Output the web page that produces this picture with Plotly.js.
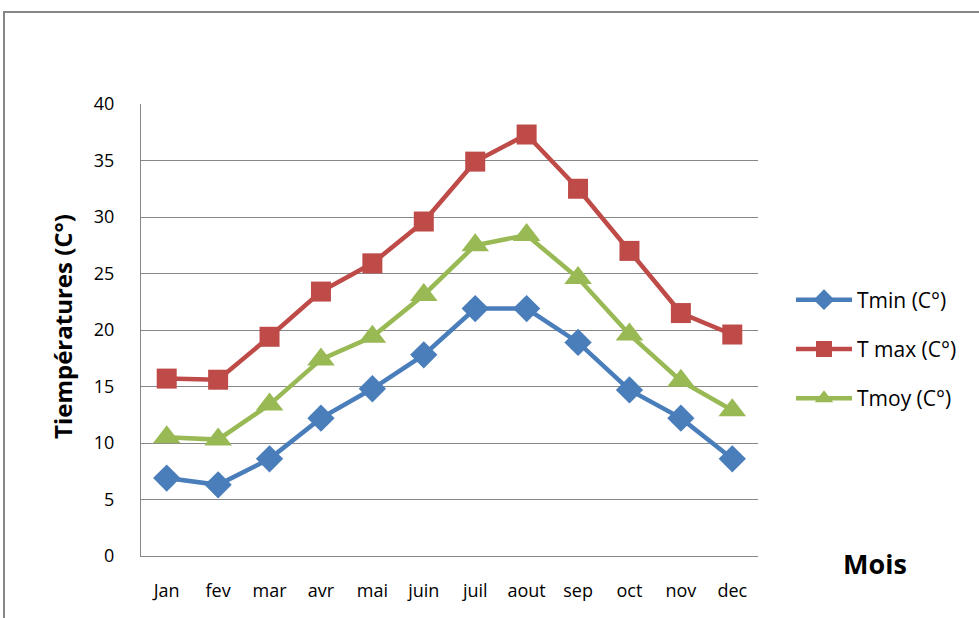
<!DOCTYPE html>
<html><head><meta charset="utf-8">
<script src="https://cdn.plot.ly/plotly-3.0.1.min.js"></script>
<style>html,body{margin:0;padding:0;background:#fff;}#chart{width:979px;height:618px;}</style>
</head><body><div id="chart"></div>
<script>
const months = ["Jan","fev","mar","avr","mai","juin","juil","aout","sep","oct","nov","dec"];
const tmin = [6.9, 6.3, 8.6, 12.2, 14.8, 17.8, 21.9, 21.9, 18.9, 14.7, 12.2, 8.6];
const tmax = [15.7, 15.6, 19.4, 23.4, 25.9, 29.6, 34.9, 37.3, 32.5, 27.0, 21.5, 19.6];
const tmoy = [10.5, 10.3, 13.4, 17.4, 19.4, 23.1, 27.5, 28.4, 24.6, 19.6, 15.5, 12.9];
const seriesNames = ["Tmin (C°)", "T max (C°)", "Tmoy (C°)"];
const yTicks = [0,5,10,15,20,25,30,35,40];

const FONT = '"Liberation Sans Narrow", "Open Sans", sans-serif';
const BOLD = '"Open Sans", "Liberation Sans", sans-serif';

const traces = [
  {x: months, y: tmin, name: seriesNames[0], type: 'scatter', mode: 'lines+markers', legendgroup: 'a',
   line: {color: '#4A7EBB', width: 4.5}, marker: {symbol: 'diamond', size: 21, color: '#4A7EBB'}},
  {x: months, y: tmax, name: seriesNames[1], type: 'scatter', mode: 'lines+markers', legendgroup: 'b',
   line: {color: '#BE4B48', width: 4.5}, marker: {symbol: 'square', size: 20, color: '#BE4B48'}},
  {x: months, y: tmoy, name: seriesNames[2], type: 'scatter', mode: 'lines+markers', legendgroup: 'c',
   line: {color: '#98B954', width: 4.5}, marker: {symbol: 'triangle-up', size: 24, color: '#98B954'}}
];

const L = 141, R = 758, T = 104, B = 556;
const W = R - L, H = B - T;
const px = v => (v - L) / W;
const py = v => (B - v) / H;

const layout = {
  width: 979, height: 618,
  margin: {l: L, r: 979 - R, t: T, b: 618 - B},
  paper_bgcolor: '#fff', plot_bgcolor: '#fff',
  showlegend: true,
  font: {family: FONT, size: 18, color: '#000'},
  xaxis: {
    type: 'category', range: [-0.5, months.length - 0.5], autorange: false,
    showgrid: false, showline: true, linecolor: '#878787', linewidth: 1,
    ticks: '', ticklabelstandoff: 18, tickfont: {family: FONT, size: 18, color: '#000'}, fixedrange: true
  },
  yaxis: {
    range: [0, 40], autorange: false, tickvals: yTicks, ticktext: yTicks.map(String),
    showgrid: true, gridcolor: '#878787', gridwidth: 1, zeroline: false,
    showline: true, linecolor: '#878787', linewidth: 1,
    ticks: '', ticklabelstandoff: 22, tickfont: {family: FONT, size: 18, color: '#000'}, fixedrange: true
  },
  legend: {
    x: px(791), y: py(349), xanchor: 'left', yanchor: 'middle',
    font: {family: FONT, size: 21, color: '#000'},
    itemwidth: 56, tracegroupgap: 19, traceorder: 'grouped', bgcolor: 'rgba(0,0,0,0)'
  },
  shapes: [{
    type: 'rect', xref: 'paper', yref: 'paper',
    x0: px(4), x1: px(990), y0: py(630), y1: py(12),
    line: {color: '#878787', width: 2}, fillcolor: 'rgba(0,0,0,0)', layer: 'below'
  }],
  annotations: [
    {text: 'Tiempératures (C°)', xref: 'paper', yref: 'paper', x: px(62), y: py(327),
     textangle: -90, showarrow: false, xanchor: 'center', yanchor: 'middle',
     font: {family: BOLD, size: 24, color: '#000', weight: 'bold'}},
    {text: 'Mois', xref: 'paper', yref: 'paper', x: px(875), y: py(563),
     showarrow: false, xanchor: 'center', yanchor: 'middle',
     font: {family: BOLD, size: 27, color: '#000', weight: 'bold'}}
  ]
};

Plotly.newPlot('chart', traces, layout, {displayModeBar: false, staticPlot: true});
</script>
</body></html>
